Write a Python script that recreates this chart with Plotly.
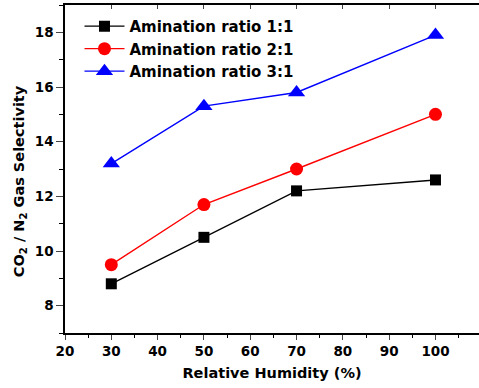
import plotly.graph_objects as go

humidity = [30, 50, 70, 100]
ratio_1_1 = [8.8, 10.5, 12.2, 12.6]
ratio_2_1 = [9.5, 11.7, 13.0, 15.0]
ratio_3_1 = [13.2, 15.3, 15.8, 17.9]
names = ["Amination ratio 1:1", "Amination ratio 2:1", "Amination ratio 3:1"]
x_ticks = [20, 30, 40, 50, 60, 70, 80, 90, 100]
y_ticks = [8, 10, 12, 14, 16, 18]

font = "DejaVu Sans"
fig = go.Figure()
styles = [("black", "square", 11), ("red", "circle", 13), ("blue", "triangle-up", 15)]
for name, ys, (c, sym, sz) in zip(names, [ratio_1_1, ratio_2_1, ratio_3_1], styles):
    fig.add_trace(go.Scatter(x=humidity, y=ys, name=name, mode="lines+markers",
                             line=dict(color=c, width=1.4),
                             marker=dict(color=c, symbol=sym, size=sz)))

fig.update_layout(
    width=479, height=388,
    margin=dict(l=65, r=0, t=5, b=55),
    plot_bgcolor="white", paper_bgcolor="white",
    font=dict(family=font, color="black"),
    showlegend=True,
    legend=dict(x=0.035, y=0.985, xanchor="left", yanchor="top",
                font=dict(family=font, size=15, color="black", weight="bold"),
                bgcolor="rgba(0,0,0,0)", tracegroupgap=0, itemwidth=40),
    xaxis=dict(range=[20, 109.4], tickvals=x_ticks, ticks="outside", ticklen=5,
               tickwidth=1.3, showline=True, linewidth=1.5, linecolor="black",
               showgrid=False, zeroline=False,
               tickfont=dict(family=font, size=13.5, weight="bold"),
               minor=dict(dtick=5, ticks="outside", ticklen=3, tickcolor="black"),
               title=dict(text="<b>Relative Humidity (%)</b>", font=dict(family=font, size=14.5), standoff=10)),
    xaxis2=dict(range=[20, 109.4], overlaying="x", side="top", tickvals=x_ticks,
                ticks="inside", ticklen=4, showticklabels=False, showline=True,
                linewidth=1.5, linecolor="black", showgrid=False, zeroline=False),
    yaxis=dict(range=[7, 19], tickvals=y_ticks, ticks="outside", ticklen=7,
               tickwidth=1.3, showline=True, linewidth=1.5, linecolor="black",
               showgrid=False, zeroline=False,
               tickfont=dict(family=font, size=13.5, weight="bold"),
               minor=dict(dtick=1, ticks="outside", ticklen=4, tickcolor="black")),
)
fig.add_annotation(text="<b>CO<sub>2</sub> / N<sub>2</sub> Gas Selectivity</b>",
                   xref="paper", yref="paper", x=0, y=0.463, xshift=-45,
                   xanchor="center", yanchor="middle",
                   textangle=-90, showarrow=False,
                   font=dict(family=font, size=14.5, color="black"))
fig.add_trace(go.Scatter(x=[None], y=[None], xaxis="x2", showlegend=False))
fig.write_html("out.html")
